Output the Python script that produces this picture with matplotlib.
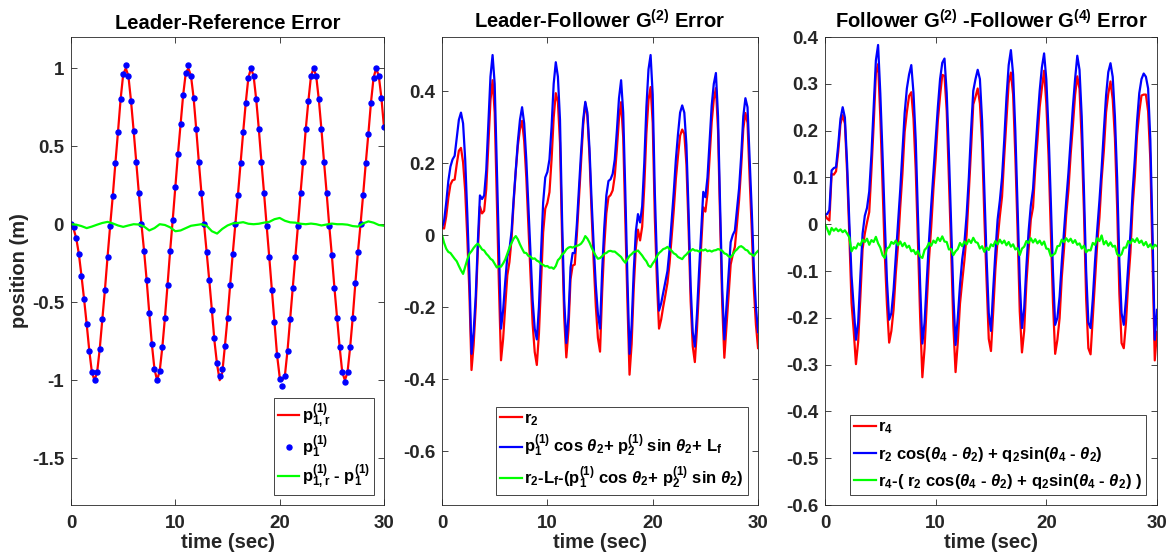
import numpy as np
import matplotlib.pyplot as plt

plt.rcParams['font.family'] = ['Liberation Sans', 'DejaVu Sans']
plt.rcParams['font.weight'] = 'bold'
plt.rcParams['axes.titleweight'] = 'bold'
plt.rcParams['axes.labelweight'] = 'bold'
plt.rcParams['mathtext.fontset'] = 'custom'
plt.rcParams['mathtext.rm'] = 'Liberation Sans:bold'
plt.rcParams['mathtext.it'] = 'Liberation Sans:italic:bold'
plt.rcParams['mathtext.bf'] = 'Liberation Sans:bold'
plt.rcParams['mathtext.default'] = 'rm'
plt.rcParams['axes.unicode_minus'] = False

# leader: reference and measured position, sampled every 0.25 s
p1_ref = [0.0, -0.03, -0.09, -0.19, -0.33, -0.48, -0.64, -0.81, -0.95, -1.0,
          -0.95, -0.80, -0.61, -0.42, -0.21, -0.01, 0.18, 0.39, 0.59, 0.80,
          0.96, 1.0, 0.95, 0.79, 0.60, 0.40, 0.20, 0.0, -0.17, -0.36,
          -0.57, -0.77, -0.93, -1.0, -0.94, -0.79, -0.60, -0.39, -0.17, 0.03,
          0.24, 0.45, 0.64, 0.83, 0.97, 1.0, 0.95, 0.81, 0.61, 0.40,
          0.20, 0.0, -0.18, -0.36, -0.55, -0.75, -0.90, -1.0, -0.95, -0.78,
          -0.60, -0.39, -0.19, 0.0, 0.19, 0.39, 0.59, 0.78, 0.94, 1.0,
          0.95, 0.80, 0.61, 0.40, 0.20, -0.01, -0.21, -0.42, -0.63, -0.84,
          -0.98, -1.0, -0.97, -0.81, -0.61, -0.41, -0.21, -0.01, 0.20, 0.40,
          0.61, 0.79, 0.95, 1.0, 0.95, 0.80, 0.61, 0.40, 0.20, -0.01,
          -0.20, -0.41, -0.60, -0.79, -0.95, -1.0, -0.95, -0.79, -0.60, -0.38,
          -0.18, 0.0, 0.19, 0.39, 0.58, 0.78, 0.94, 1.0, 0.95, 0.81,
          0.62]
p1_meas = [0.0, -0.02, -0.09, -0.19, -0.33, -0.48, -0.64, -0.81, -0.95, -1.0,
           -0.95, -0.80, -0.61, -0.42, -0.21, -0.01, 0.18, 0.39, 0.59, 0.80,
           0.96, 1.02, 0.95, 0.79, 0.60, 0.40, 0.20, 0.0, -0.17, -0.36,
           -0.57, -0.77, -0.93, -1.0, -0.94, -0.79, -0.60, -0.39, -0.17, 0.03,
           0.24, 0.45, 0.64, 0.83, 0.97, 1.02, 0.95, 0.81, 0.61, 0.40,
           0.20, 0.0, -0.18, -0.36, -0.55, -0.73, -0.89, -0.97, -0.93, -0.78,
           -0.60, -0.39, -0.19, 0.0, 0.19, 0.39, 0.59, 0.78, 0.94, 1.0,
           0.95, 0.80, 0.61, 0.40, 0.20, -0.01, -0.21, -0.42, -0.63, -0.84,
           -0.99, -1.04, -0.97, -0.81, -0.61, -0.41, -0.21, -0.01, 0.20, 0.40,
           0.61, 0.79, 0.95, 1.0, 0.95, 0.80, 0.61, 0.40, 0.20, -0.01,
           -0.20, -0.41, -0.60, -0.79, -0.95, -1.01, -0.95, -0.79, -0.60, -0.38,
           -0.18, 0.0, 0.19, 0.39, 0.58, 0.78, 0.94, 1.0, 0.95, 0.81,
           0.62]
# leader tracking error, every 0.5 s
p1_err = [0.0, -0.003, -0.012, -0.025, -0.015, -0.003, 0.008, 0.015, 0.005, -0.008,
          -0.017, -0.008, 0.0, -0.002, -0.015, -0.04, -0.025, 0.0, -0.005, -0.02,
          -0.045, -0.04, -0.025, -0.01, -0.005, 0.0, -0.01, -0.045, -0.06, -0.03,
          -0.008, 0.005, 0.008, 0.013, 0.003, 0.0, 0.003, 0.01, 0.015, 0.032,
          0.04, 0.022, 0.012, 0.01, 0.003, 0.0, 0.004, 0.0, -0.008, -0.002,
          0.004, 0.0, 0.0, -0.003, -0.012, -0.015, 0.005, 0.018, 0.01, -0.005,
          -0.01]

# follower G(2): estimate from leader pose and error, every 0.2 s
g2_est = [0.02, 0.04, 0.09, 0.15, 0.19, 0.21, 0.22, 0.27, 0.32, 0.34,
          0.31, 0.21, 0.06, -0.11, -0.33, -0.27, -0.17, -0.02, 0.11, 0.10,
          0.11, 0.18, 0.31, 0.44, 0.50, 0.42, 0.19, -0.05, -0.26, -0.21,
          -0.13, -0.06, -0.04, 0.01, 0.10, 0.18, 0.26, 0.32, 0.355, 0.31,
          0.21, 0.08, -0.05, -0.18, -0.26, -0.29, -0.20, -0.05, 0.09, 0.16,
          0.175, 0.21, 0.30, 0.42, 0.48, 0.44, 0.32, 0.04, -0.18, -0.30,
          -0.23, -0.09, -0.05, -0.05, 0.03, 0.13, 0.23, 0.32, 0.37, 0.34,
          0.24, 0.095, -0.03, -0.14, -0.22, -0.26, -0.10, 0.02, 0.11, 0.15,
          0.155, 0.17, 0.21, 0.29, 0.38, 0.43, 0.34, 0.12, -0.12, -0.33,
          -0.25, -0.10, 0.01, 0.058, 0.035, 0.08, 0.20, 0.355, 0.46, 0.50,
          0.39, 0.12, -0.07, -0.21, -0.19, -0.16, -0.13, -0.10, -0.04, 0.04,
          0.12, 0.21, 0.28, 0.34, 0.36, 0.34, 0.25, 0.07, -0.14, -0.27,
          -0.31, -0.22, -0.10, 0.01, 0.12, 0.105, 0.16, 0.26, 0.36, 0.42,
          0.45, 0.33, 0.08, -0.15, -0.29, -0.20, -0.11, -0.02, 0.0, 0.012,
          0.07, 0.13, 0.22, 0.33, 0.38, 0.355, 0.21, 0.07, -0.09, -0.20,
          -0.27]
g2_err = [0.0, -0.022, -0.038, -0.047, -0.05, -0.058, -0.066, -0.073, -0.086, -0.098,
          -0.108, -0.088, -0.068, -0.052, -0.045, -0.036, -0.029, -0.024, -0.031, -0.04,
          -0.043, -0.052, -0.058, -0.066, -0.07, -0.08, -0.09, -0.087, -0.088, -0.079,
          -0.068, -0.052, -0.035, -0.022, -0.01, -0.003, -0.012, -0.026, -0.038, -0.049,
          -0.05, -0.058, -0.06, -0.066, -0.065, -0.071, -0.074, -0.08, -0.083, -0.087,
          -0.086, -0.091, -0.09, -0.094, -0.086, -0.07, -0.064, -0.054, -0.049, -0.04,
          -0.035, -0.033, -0.035, -0.032, -0.03, -0.028, -0.024, -0.016, -0.003, -0.01,
          -0.021, -0.035, -0.047, -0.058, -0.066, -0.064, -0.059, -0.052, -0.05, -0.045,
          -0.044, -0.046, -0.046, -0.051, -0.056, -0.061, -0.07, -0.077, -0.067, -0.058,
          -0.053, -0.047, -0.046, -0.043, -0.05, -0.057, -0.066, -0.073, -0.085, -0.089,
          -0.079, -0.071, -0.059, -0.05, -0.045, -0.039, -0.037, -0.033, -0.039, -0.044,
          -0.051, -0.054, -0.061, -0.064, -0.067, -0.059, -0.054, -0.047, -0.044, -0.039,
          -0.043, -0.043, -0.046, -0.041, -0.043, -0.04, -0.045, -0.043, -0.046, -0.043,
          -0.042, -0.039, -0.041, -0.044, -0.051, -0.053, -0.059, -0.062, -0.055, -0.045,
          -0.04, -0.033, -0.031, -0.035, -0.041, -0.043, -0.051, -0.054, -0.058, -0.05,
          -0.044]

# follower G(4): estimate from G(2) and error, every 0.2 s
g4_est = [0.02, 0.022, 0.03, 0.115, 0.12, 0.122, 0.17, 0.225, 0.25, 0.228,
          0.13, 0.005, -0.11, -0.18, -0.247, -0.21, -0.11, -0.02, 0.018, 0.035,
          0.07, 0.15, 0.25, 0.35, 0.383, 0.28, 0.15, 0.01, -0.12, -0.204,
          -0.19, -0.14, -0.07, 0.0, 0.073, 0.155, 0.237, 0.29, 0.32, 0.34,
          0.28, 0.18, 0.02, -0.13, -0.255, -0.21, -0.12, -0.035, 0.04, 0.11,
          0.18, 0.25, 0.31, 0.345, 0.354, 0.28, 0.15, 0.0, -0.15, -0.258,
          -0.2, -0.13, -0.075, -0.04, 0.02, 0.1, 0.2, 0.285, 0.31, 0.33,
          0.31, 0.22, 0.075, -0.07, -0.19, -0.228, -0.14, -0.06, 0.01, 0.05,
          0.1, 0.18, 0.27, 0.34, 0.372, 0.32, 0.2, 0.04, -0.12, -0.222,
          -0.18, -0.09, -0.015, 0.04, 0.075, 0.15, 0.22, 0.285, 0.335, 0.365,
          0.31, 0.2, 0.055, -0.1, -0.215, -0.2, -0.155, -0.08, -0.015, 0.05,
          0.11, 0.18, 0.25, 0.31, 0.36, 0.33, 0.23, 0.073, -0.1, -0.21,
          -0.222, -0.16, -0.08, -0.012, 0.05, 0.12, 0.2, 0.275, 0.325, 0.344,
          0.315, 0.23, 0.1, -0.08, -0.19, -0.215, -0.16, -0.09, -0.02, 0.07,
          0.14, 0.22, 0.28, 0.31, 0.322, 0.315, 0.29, 0.18, -0.02, -0.247,
          -0.183]
g4_err = [0.0, -0.01, -0.022, -0.008, -0.014, -0.009, -0.015, -0.011, -0.017, -0.013,
          -0.02, -0.028, -0.058, -0.049, -0.052, -0.041, -0.045, -0.033, -0.038, -0.031,
          -0.044, -0.034, -0.038, -0.027, -0.041, -0.05, -0.066, -0.072, -0.052, -0.049,
          -0.038, -0.042, -0.035, -0.045, -0.037, -0.047, -0.04, -0.05, -0.046, -0.058,
          -0.055, -0.064, -0.057, -0.069, -0.072, -0.055, -0.05, -0.04, -0.046, -0.035,
          -0.04, -0.029, -0.036, -0.026, -0.037, -0.038, -0.054, -0.053, -0.066, -0.058,
          -0.053, -0.04, -0.047, -0.037, -0.043, -0.033, -0.04, -0.029, -0.038, -0.04,
          -0.052, -0.047, -0.059, -0.05, -0.055, -0.043, -0.047, -0.036, -0.043, -0.033,
          -0.041, -0.035, -0.045, -0.038, -0.048, -0.043, -0.054, -0.051, -0.066, -0.052,
          -0.048, -0.036, -0.04, -0.03, -0.039, -0.032, -0.041, -0.035, -0.044, -0.037,
          -0.052, -0.053, -0.068, -0.066, -0.062, -0.047, -0.046, -0.033, -0.038, -0.03,
          -0.037, -0.031, -0.04, -0.034, -0.044, -0.041, -0.052, -0.046, -0.06, -0.055,
          -0.056, -0.04, -0.044, -0.03, -0.036, -0.024, -0.043, -0.036, -0.046, -0.039,
          -0.048, -0.046, -0.064, -0.068, -0.064, -0.05, -0.05, -0.036, -0.041, -0.032,
          -0.038, -0.03, -0.04, -0.035, -0.045, -0.038, -0.049, -0.043, -0.052, -0.044,
          -0.047]

t1 = np.arange(len(p1_ref)) * 0.25
t1e = np.arange(len(p1_err)) * 0.5
t2 = np.arange(len(g2_est)) * 0.2

r2 = np.array(g2_est) + np.array(g2_err)
r4 = np.array(g4_est) + np.array(g4_err)

INK = '#262626'
RED, BLUE, GREEN = '#ff0000', '#0000ff', '#00ff00'


def style(ax, ylim, yticks, ylabels):
    ax.set_xlim(0, 30)
    ax.set_ylim(*ylim)
    ax.set_xticks([0, 10, 20, 30])
    ax.set_yticks(yticks, ylabels)
    ax.tick_params(direction='in', top=True, right=True, length=4, width=0.6,
                   colors=INK, labelsize=13.5)
    ax.tick_params(axis='x', pad=7)
    ax.tick_params(axis='y', pad=5)
    for s in ax.spines.values():
        s.set_color(INK)
        s.set_linewidth(0.6)
    ax.set_xlabel('time (sec)', fontsize=14.5, color=INK, labelpad=1)


def legend(ax, spacing):
    leg = ax.legend(loc='lower right', bbox_to_anchor=(0.968, 0.021), borderaxespad=0,
                    fontsize=12, handlelength=1.3, handletextpad=0.15, labelspacing=spacing,
                    borderpad=0.25, fancybox=False, edgecolor=INK, framealpha=1)
    leg.get_frame().set_linewidth(0.6)
    for txt in leg.get_texts():
        txt.set_color('black')


fig = plt.figure(figsize=(11.74, 5.6), dpi=100)
ax1 = fig.add_axes([0.0605, 0.0982, 0.2666, 0.8357])
ax2 = fig.add_axes([0.3765, 0.0982, 0.2692, 0.8357])
ax3 = fig.add_axes([0.7027, 0.0982, 0.2828, 0.8357])

ax1.plot(t1, p1_ref, color=RED, lw=1.6, label=r'$p^{(1)}_{1,r}$')
ax1.plot(t1, p1_meas, 'o', color=BLUE, ms=3.6, label=r'$p^{(1)}_1$')
ax1.plot(t1e, p1_err, color=GREEN, lw=1.6, label=r'$p^{(1)}_{1,r}$ - $p^{(1)}_1$')
style(ax1, (-1.8, 1.2), [-1.5, -1, -0.5, 0, 0.5, 1], ['-1.5', '-1', '-0.5', '0', '0.5', '1'])
ax1.set_title('Leader-Reference Error', fontsize=14.5, pad=6)
ax1.set_ylabel('position (m)', fontsize=14.5, color=INK, labelpad=2)
legend(ax1, 0.2)

ax2.plot(t2, r2, color=RED, lw=1.6, label=r'$r_2$')
ax2.plot(t2, g2_est, color=BLUE, lw=1.6,
         label=r'$p^{(1)}_1$ cos $\mathit{\theta}_2$+ $p^{(1)}_2$ sin $\mathit{\theta}_2$+ $L_f$')
ax2.plot(t2, g2_err, color=GREEN, lw=1.6,
         label=r'$r_2$-$L_f$-($p^{(1)}_1$ cos $\mathit{\theta}_2$+ $p^{(1)}_2$ sin $\mathit{\theta}_2$)')
style(ax2, (-0.75, 0.55), [-0.6, -0.4, -0.2, 0, 0.2, 0.4], ['-0.6', '-0.4', '-0.2', '0', '0.2', '0.4'])
ax2.set_title(r'Leader-Follower $G^{(2)}$ Error', fontsize=14.5, pad=6)
legend(ax2, 0.32)

ax3.plot(t2, r4, color=RED, lw=1.6, label=r'$r_4$')
ax3.plot(t2, g4_est, color=BLUE, lw=1.6,
         label=r'$r_2$ cos($\mathit{\theta}_4$ - $\mathit{\theta}_2$) + $q_2$sin($\mathit{\theta}_4$ - $\mathit{\theta}_2$)')
ax3.plot(t2, g4_err, color=GREEN, lw=1.6,
         label=r'$r_4$-( $r_2$ cos($\mathit{\theta}_4$ - $\mathit{\theta}_2$) + $q_2$sin($\mathit{\theta}_4$ - $\mathit{\theta}_2$) )')
y3 = [-0.6, -0.5, -0.4, -0.3, -0.2, -0.1, 0, 0.1, 0.2, 0.3, 0.4]
style(ax3, (-0.6, 0.4), y3, ['-0.6', '-0.5', '-0.4', '-0.3', '-0.2', '-0.1', '0', '0.1', '0.2', '0.3', '0.4'])
ax3.set_title(r'Follower $G^{(2)}$ -Follower $G^{(4)}$ Error', fontsize=14.5, pad=6)
legend(ax3, 0.5)

fig.savefig('out.png', dpi=100, facecolor='white')
